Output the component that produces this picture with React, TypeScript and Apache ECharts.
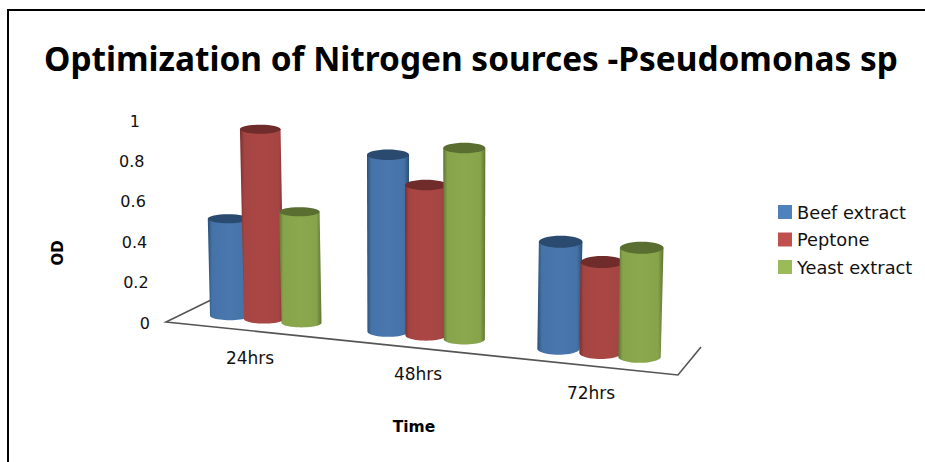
import React, { useEffect, useRef } from "react";
import * as echarts from "echarts";

const categories = ["24hrs", "48hrs", "72hrs"];
const beefExtract = [0.48, 0.875, 0.53];
const peptone = [0.94, 0.745, 0.45];
const yeastExtract = [0.55, 0.947, 0.54];
const yTicks = [0, 0.2, 0.4, 0.6, 0.8, 1];

const palette = [
  { name: "Beef extract", data: beefExtract, legend: "#4f81bd", dark: "#2b4f78", mid: "#4572a7", light: "#4a78ae", top: "#2a4a70" },
  { name: "Peptone", data: peptone, legend: "#c0504d", dark: "#7a2f2d", mid: "#a54543", light: "#aa4744", top: "#6f2c2b" },
  { name: "Yeast extract", data: yeastExtract, legend: "#9bbb59", dark: "#5f7534", mid: "#87a44b", light: "#8ba84e", top: "#5a6e32" },
];

const GRID_LEFT = 179.9;
const GRID_WIDTH = 504.75;
const GRID_TOP = 121;
const GRID_BOTTOM_Y = 323;
const BAND = GRID_WIDTH / 3;

function arc(cx: number, cy: number, rx: number, ry: number, from: number, to: number) {
  const pts: number[][] = [];
  for (let k = 0; k <= 24; k++) {
    const a = from + ((to - from) * k) / 24;
    pts.push([cx + rx * Math.cos(a), cy + ry * Math.sin(a)]);
  }
  return pts;
}

function makeRender(seriesIndex: number) {
  const c = palette[seriesIndex];
  return (params: any, api: any) => {
    const cat = api.value(0);
    const val = api.value(1);
    const p = api.coord([cat, val]);
    const zero = api.coord([cat, 0]);
    const h = zero[1] - p[1];
    const t = (p[0] - GRID_LEFT - BAND / 2) / (2 * BAND);
    const warp = -6.25 * (1 - Math.pow(2 * t - 1, 2));
    const off = seriesIndex === 0 ? -34 - 8 * t : seriesIndex === 2 ? 37.5 + 1.5 * t : 0;
    const cx = p[0] + warp + off;
    const rxBase = 20 + t * 1.2;
    const rxTop = 20.3 + t * 1.5;
    const ry = 4.5 + t * 1.5;
    const lean = (2 * t - 1) * 3;
    const baseY = 315.5 + 0.1005 * (cx - 228);
    const topY = baseY - h;
    const topCx = cx + lean * (h / 150);
    const body = [
      [topCx - rxTop, topY],
      ...arc(cx, baseY, rxBase, ry, Math.PI, 0),
      [topCx + rxTop, topY],
    ];
    return {
      type: "group",
      children: [
        {
          type: "polygon",
          shape: { points: body },
          style: {
            fill: new echarts.graphic.LinearGradient(0, 0, 1, 0, [
              { offset: 0, color: c.dark },
              { offset: 0.1, color: c.mid },
              { offset: 0.5, color: c.light },
              { offset: 0.88, color: c.mid },
              { offset: 1, color: c.dark },
            ]),
          },
        },
        {
          type: "ellipse",
          shape: { cx: topCx, cy: topY, rx: rxTop, ry },
          style: { fill: c.top },
        },
      ],
    };
  };
}

const labelShift: Record<string, number[]> = {
  "24hrs": [26, 28],
  "48hrs": [42, 28.5],
  "72hrs": [61, 19],
};

export default function App() {
  const ref = useRef<HTMLDivElement>(null);
  useEffect(() => {
    const chart = echarts.init(ref.current!, null, { renderer: "svg" });
    const font = "'DejaVu Sans', Verdana, sans-serif";
    chart.setOption({
      animation: false,
      backgroundColor: "#ffffff",
      title: {
        text: "Optimization of Nitrogen sources -Pseudomonas sp",
        left: 39,
        top: 36,
        textStyle: { fontFamily: "'Noto Sans', sans-serif", fontWeight: "bold", fontSize: 33.4, color: "#000000" },
      },
      legend: {
        orient: "vertical",
        left: 773,
        top: 198,
        itemWidth: 14,
        itemHeight: 14,
        itemGap: 9.5,
        icon: "rect",
        textStyle: { fontFamily: font, fontSize: 17.8, color: "#111111" },
        data: palette.map((c) => c.name),
      },
      grid: { left: GRID_LEFT, top: GRID_TOP, width: GRID_WIDTH, height: GRID_BOTTOM_Y - GRID_TOP },
      xAxis: {
        type: "category",
        data: categories,
        axisLine: { show: false },
        axisTick: { show: false },
        splitLine: { show: false },
        axisLabel: {
          margin: 0,
          interval: 0,
          color: "#111111",
          fontFamily: font,
          fontSize: 17,
          verticalAlign: "top",
          formatter: (v: string) => `{c${categories.indexOf(v)}|${v}}`,
          rich: Object.fromEntries(
            categories.map((v, i) => [
              `c${i}`,
              { fontFamily: font, fontSize: 17, color: "#111111", padding: [labelShift[v][0], labelShift[v][1], 0, 0] },
            ])
          ),
        },
      },
      yAxis: {
        type: "value",
        min: 0,
        max: 1,
        interval: 0.2,
        axisLine: { show: false },
        axisTick: { show: false },
        splitLine: { show: false },
        axisLabel: {
          margin: 29.9,
          color: "#111111",
          fontFamily: font,
          fontSize: 16,
          formatter: (v: number) => `{t${Math.round(v * 10)}|${v}}`,
          rich: Object.fromEntries(
            yTicks.map((v) => [
              `t${Math.round(v * 10)}`,
              { fontFamily: font, fontSize: 16, color: "#111111", padding: [0, v === 1 ? 10 : v * 7, 0, 0] },
            ])
          ),
        },
      },
      graphic: [
        { type: "line", z: 10, shape: { x1: 8, y1: 10, x2: 8, y2: 462 }, style: { stroke: "#000", lineWidth: 2 } },
        { type: "line", z: 10, shape: { x1: 7, y1: 10, x2: 925, y2: 10 }, style: { stroke: "#000", lineWidth: 2 } },
        { type: "polyline", z: 1, shape: { points: [[211, 300], [166, 322], [678, 375], [701, 347]] }, style: { stroke: "#555555", lineWidth: 1.6, fill: "none" } },
        { type: "text", x: 58, y: 253, rotation: Math.PI / 2, style: { text: "OD", fontFamily: font, fontWeight: "bold", fontSize: 15, fill: "#000", align: "center", verticalAlign: "middle" } },
        { type: "text", x: 414, y: 427, style: { text: "Time", fontFamily: font, fontWeight: "bold", fontSize: 15.5, fill: "#000", align: "center", verticalAlign: "middle" } },
      ],
      series: palette.map((c, i) => ({
        type: "custom",
        name: c.name,
        coordinateSystem: "cartesian2d",
        clip: false,
        z: 2 + i,
        itemStyle: { color: c.legend },
        encode: { x: 0, y: 1 },
        renderItem: makeRender(i),
        data: c.data.map((v, k) => [k, v]),
      })),
    });
    return () => chart.dispose();
  }, []);
  return <div ref={ref} style={{ position: "fixed", left: 0, top: 0, width: 925, height: 462, background: "#fff" }} />;
}
